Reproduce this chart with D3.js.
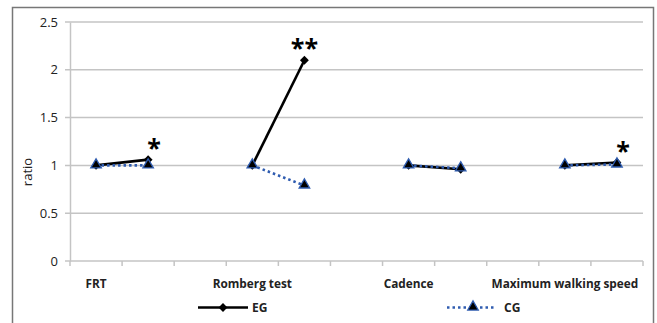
<!DOCTYPE html>
<html>
<head>
<meta charset="utf-8">
<script src="https://cdn.jsdelivr.net/npm/d3@7"></script>
<style>
body { margin: 0; background: #fff; }
text { font-family: "Open Sans", "Liberation Sans", sans-serif; }
</style>
</head>
<body>
<script>
// 11 category slots, measures in pairs with blank slots between groups
var slots = ["FRT", "", "", "Romberg test", "", "", "Cadence", "", "", "Maximum walking speed", ""];
var groups = [[0, 1], [3, 4], [6, 7], [9, 10]];
var egValues = [1, 1.06, null, 1, 2.1, null, 1, 0.96, null, 1, 1.03];
var cgValues = [1, 1.0, null, 1, 0.79, null, 1, 0.97, null, 1, 1.01];
var yTicks = [0, 0.5, 1, 1.5, 2, 2.5];
var stars = [{slot: 1, label: "*"}, {slot: 4, label: "**"}, {slot: 10, label: "*"}];

var W = 657, H = 323;
var margin = {top: 22, right: 14, bottom: 62, left: 70};

var svg = d3.select("body").append("svg")
    .attr("width", W)
    .attr("height", H);

// outer frame
svg.append("rect")
    .attr("x", 12.5).attr("y", 7.5)
    .attr("width", 641).attr("height", 330)
    .attr("fill", "none")
    .attr("stroke", "#777")
    .attr("stroke-width", 1.5);

var x = d3.scaleBand()
    .domain(d3.range(slots.length))
    .range([margin.left, W - margin.right]);

var y = d3.scaleLinear()
    .domain([0, 2.5])
    .range([H - margin.bottom, margin.top]);

// gridlines
svg.append("g")
    .selectAll("line")
    .data(yTicks)
    .enter()
    .append("line")
    .attr("x1", margin.left - 5)
    .attr("x2", W - margin.right)
    .attr("y1", (d) => y(d))
    .attr("y2", (d) => y(d))
    .attr("stroke", "#c4c4c4")
    .attr("stroke-width", 1.5);

// y axis
var yAxis = svg.append("g")
    .attr("transform", "translate(" + margin.left + ",0)")
    .call(d3.axisLeft(y).tickValues(yTicks).tickSize(0).tickPadding(12).tickFormat(d3.format("")));
yAxis.select(".domain").attr("stroke", "#c4c4c4").attr("stroke-width", 1.5);
yAxis.selectAll("text").attr("font-size", 13).attr("fill", "#222");

// x axis ticks between slots
var xBase = y(0);
svg.append("g")
    .selectAll("line")
    .data(d3.range(slots.length + 1))
    .enter()
    .append("line")
    .attr("x1", (i) => margin.left + i * x.step())
    .attr("x2", (i) => margin.left + i * x.step())
    .attr("y1", xBase)
    .attr("y2", xBase + 5)
    .attr("stroke", "#c4c4c4")
    .attr("stroke-width", 1.5);

svg.append("g")
    .selectAll("text")
    .data(slots.map((s, i) => ({s: s, i: i})).filter((d) => d.s))
    .enter()
    .append("text")
    .attr("x", (d) => x(d.i) + x.bandwidth() / 2)
    .attr("y", xBase + 27)
    .attr("text-anchor", "middle")
    .attr("font-size", 11.8)
    .attr("font-weight", "bold")
    .attr("fill", "#222")
    .text((d) => d.s);

// axis title
svg.append("text")
    .attr("transform", "translate(32,172) rotate(-90)")
    .attr("text-anchor", "middle")
    .attr("font-size", 13)
    .attr("fill", "#222")
    .text("ratio");

var cx = (i) => x(i) + x.bandwidth() / 2;
var line = d3.line().x((d) => cx(d[0])).y((d) => y(d[1]));

var diamond = d3.symbol().type(d3.symbolDiamond2).size(50);
var triangle = d3.symbol().type(d3.symbolTriangle).size(48);

// EG series
groups.forEach((g) => {
    svg.append("path")
        .attr("d", line(g.map((i) => [i, egValues[i]])))
        .attr("fill", "none")
        .attr("stroke", "#000")
        .attr("stroke-width", 2.6);
});
svg.append("g")
    .selectAll("path")
    .data(egValues.map((v, i) => [i, v]).filter((d) => d[1] != null))
    .enter()
    .append("path")
    .attr("d", diamond)
    .attr("transform", (d) => "translate(" + cx(d[0]) + "," + y(d[1]) + ")")
    .attr("fill", "#000");

// CG series
groups.forEach((g) => {
    svg.append("path")
        .attr("d", line(g.map((i) => [i, cgValues[i]])))
        .attr("fill", "none")
        .attr("stroke", "#2f5cb0")
        .attr("stroke-width", 2.6)
        .attr("stroke-dasharray", "2.5,3");
});
svg.append("g")
    .selectAll("path")
    .data(cgValues.map((v, i) => [i, v]).filter((d) => d[1] != null))
    .enter()
    .append("path")
    .attr("d", triangle)
    .attr("transform", (d) => "translate(" + cx(d[0]) + "," + (y(d[1]) - 0.5) + ")")
    .attr("fill", "#000")
    .attr("stroke", "#2f5cb0")
    .attr("stroke-width", 1.3);

// significance stars
svg.append("g")
    .selectAll("text")
    .data(stars)
    .enter()
    .append("text")
    .attr("x", (d) => cx(d.slot) + (d.label === "*" ? 6 : 0))
    .attr("y", (d) => y(egValues[d.slot]) - 3)
    .attr("text-anchor", "middle")
    .attr("font-size", 25)
    .attr("font-weight", "bold")
    .attr("fill", "#000")
    .text((d) => d.label);

// legend
var ly = 307.5;
var leg = svg.append("g");
leg.append("line")
    .attr("x1", 198).attr("x2", 248).attr("y1", ly).attr("y2", ly)
    .attr("stroke", "#000").attr("stroke-width", 2.6);
leg.append("path")
    .attr("d", diamond)
    .attr("transform", "translate(223," + ly + ")")
    .attr("fill", "#000");
leg.append("text")
    .attr("x", 252).attr("y", ly + 4.5)
    .attr("font-size", 12).attr("font-weight", "bold").attr("fill", "#222")
    .text("EG");
leg.append("line")
    .attr("x1", 447).attr("x2", 496).attr("y1", ly).attr("y2", ly)
    .attr("stroke", "#2f5cb0").attr("stroke-width", 2.6)
    .attr("stroke-dasharray", "2.5,3");
leg.append("path")
    .attr("d", triangle)
    .attr("transform", "translate(473," + (ly - 0.5) + ")")
    .attr("fill", "#000")
    .attr("stroke", "#2f5cb0")
    .attr("stroke-width", 1.3);
leg.append("text")
    .attr("x", 504).attr("y", ly + 4.5)
    .attr("font-size", 12).attr("font-weight", "bold").attr("fill", "#222")
    .text("CG");
</script>
</body>
</html>
